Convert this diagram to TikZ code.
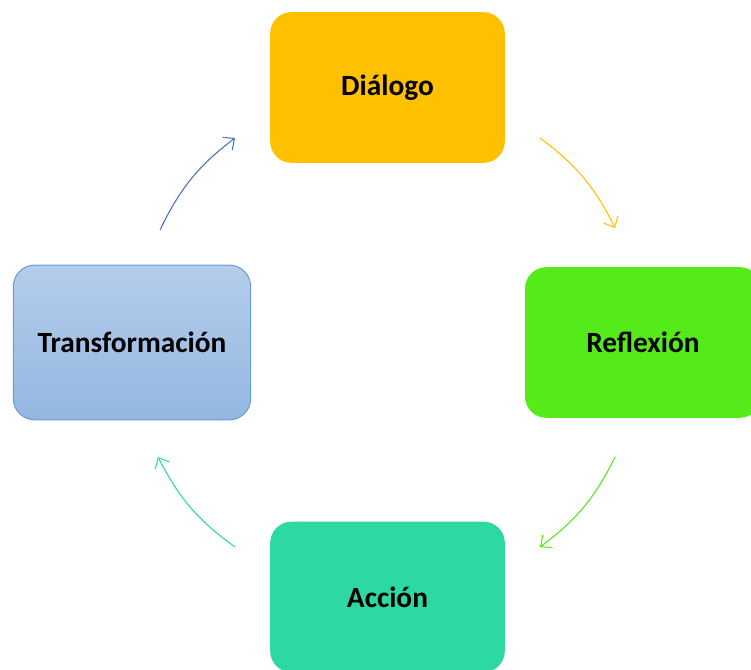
\documentclass[tikz,border=0pt]{standalone}
\usepackage{fontspec}
\usetikzlibrary{arrows.meta}
\setmainfont{Carlito}
\definecolor{dialogo}{HTML}{FFC000}
\definecolor{reflexion}{HTML}{55EA1A}
\definecolor{accion}{HTML}{2ED8A3}
\definecolor{transtop}{HTML}{B4CDEA}
\definecolor{transbot}{HTML}{94B7E2}
\definecolor{transline}{HTML}{6A9DD6}
\definecolor{arrowblue}{HTML}{4472C4}
\tikzset{
  etapa/.style={rounded corners=16pt, minimum width=176pt, minimum height=113pt,
    font=\bfseries\fontsize{22}{26}\selectfont, text=black},
  ciclo/.style={-{Straight Barb[length=6.5pt, width=12pt]}, line width=0.8pt, bend left=13.5}
}
\begin{document}
\begin{tikzpicture}[x=0.75pt, y=0.75pt]
    \useasboundingbox (0,0) rectangle (751,669);

    % Etapas
    \node[etapa, fill=dialogo] (dialogo) at (387.5,581.5) {Diálogo};
    \node[etapa, fill=reflexion, minimum width=177pt] (reflexion) at (643,326.5) {Reflexión};
    \node[etapa, fill=accion] (accion) at (387.5,72) {Acción};
    \node[etapa, draw=transline, line width=0.75pt, top color=transtop, bottom color=transbot,
      minimum width=178pt, minimum height=116pt] (transformacion) at (132,326.5) {Transformación};

    % Extremos de las flechas
    \coordinate (tl1) at (160,439);
    \coordinate (tl2) at (235,531);
    \coordinate (tr1) at (540,531);
    \coordinate (tr2) at (615,441);
    \coordinate (br1) at (615,212);
    \coordinate (br2) at (540,122);
    \coordinate (bl1) at (235,122);
    \coordinate (bl2) at (158,212);

    % Flechas del ciclo
    \draw[ciclo, arrowblue] (tl1) to (tl2);
    \draw[ciclo, dialogo] (tr1) to (tr2);
    \draw[ciclo, reflexion] (br1) to (br2);
    \draw[ciclo, accion] (bl1) to (bl2);
\end{tikzpicture}
\end{document}
